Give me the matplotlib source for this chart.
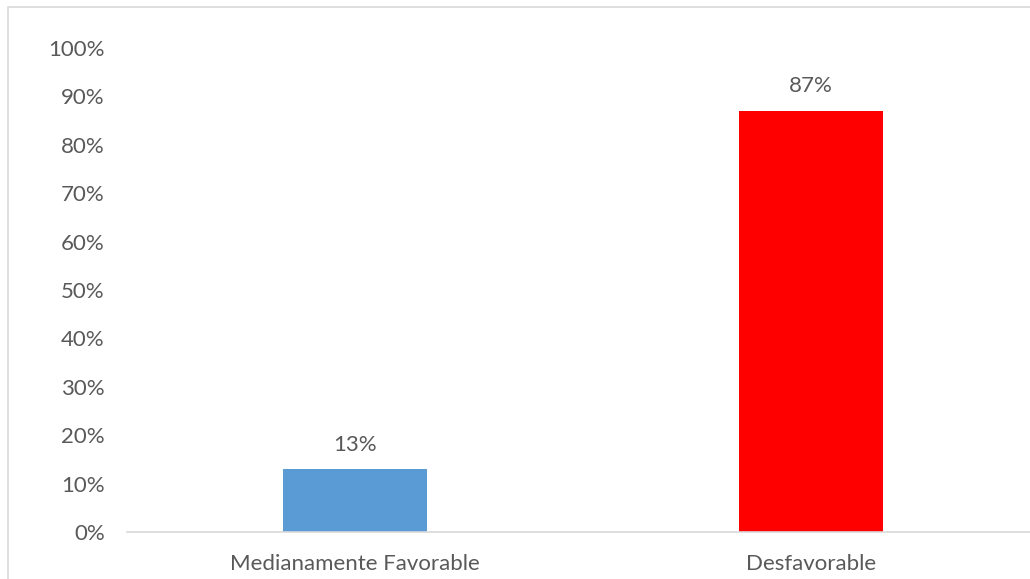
import matplotlib.pyplot as plt
import matplotlib.patches as patches
import numpy as np

plt.rcParams['font.family'] = ['Lato', 'DejaVu Sans']
plt.rcParams['font.size'] = 16

categories = ['Medianamente Favorable', 'Desfavorable']
values = [13, 87]
colors = ['#5B9BD5', '#FF0000']
yticks = [0, 10, 20, 30, 40, 50, 60, 70, 80, 90, 100]

txt = '#595959'

fig = plt.figure(figsize=(10.30, 5.79), dpi=100)
ax = fig.add_axes([127/1030, 47/579, 912/1030, 484/579])

x = np.arange(len(categories))
bars = ax.bar(x, values, width=0.316, color=colors, zorder=2)

for xi, v in zip(x, values):
    ax.text(xi, v + 3.0, f'{v}%', ha='center', va='bottom', color=txt, fontsize=16)

ax.set_xlim(-0.5, 1.5)
ax.set_ylim(0, 100)
ax.set_yticks(yticks)
ax.set_yticklabels([f'{t}%' for t in yticks])
ax.set_xticks(x)
ax.set_xticklabels(categories)

for s in ['top', 'right', 'left']:
    ax.spines[s].set_visible(False)
ax.spines['bottom'].set_color('#D9D9D9')
ax.spines['bottom'].set_linewidth(1.2)
ax.tick_params(axis='both', length=0, colors=txt, labelsize=16)
ax.tick_params(axis='y', pad=16)
ax.tick_params(axis='x', pad=16)

border = patches.Rectangle((8/1030, -0.05), 1.1, 1 - 7/579 + 0.05, transform=fig.transFigure,
                           fill=False, edgecolor='#D9D9D9', linewidth=1.2, clip_on=False)
fig.patches.append(border)

fig.savefig('out.png', dpi=100)
